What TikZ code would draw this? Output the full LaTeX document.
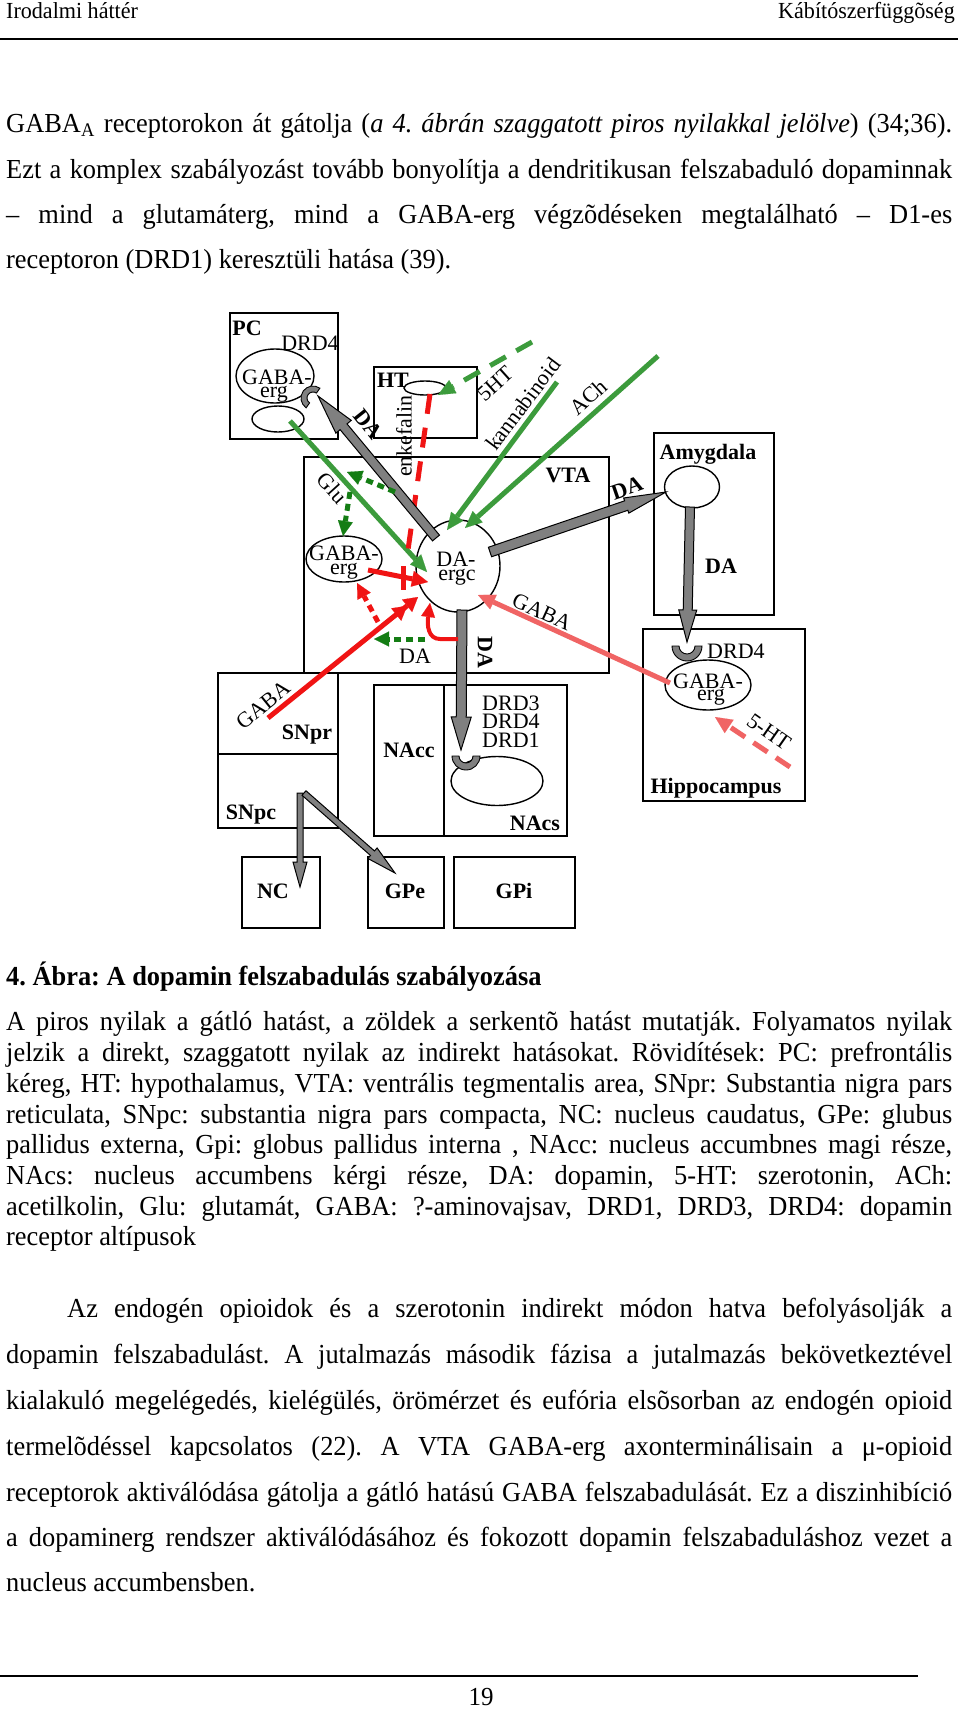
\documentclass[tikz,border=0pt]{standalone}
\usepackage{fontspec}
\setmainfont{Liberation Serif}
\newfontfamily\bodyf[FakeStretch=0.96]{Liberation Serif}
\usetikzlibrary{calc,shapes.geometric,arrows.meta}
\frenchspacing
\definecolor{gA}{RGB}{60,155,60}
\definecolor{gD}{RGB}{20,125,20}
\definecolor{rA}{RGB}{240,20,20}
\definecolor{rL}{RGB}{240,100,100}
\definecolor{grayA}{RGB}{128,128,128}
\newcommand\blockarr[5]{%
  \coordinate (bah) at ($(#2)!#5!(#1)$);
  \filldraw[fill=grayA, draw=black, line width=1pt, line join=miter]
    ($(#1)!#3!90:(#2)$) -- ($(bah)!#3!-90:(#1)$) -- ($(bah)!#4!-90:(#1)$) -- (#2)
    -- ($(bah)!#4!90:(#1)$) -- ($(bah)!#3!90:(#1)$) -- ($(#1)!#3!-90:(#2)$) -- cycle;}
\newcommand\cupat[5]{%
  \coordinate (#1) at (#2);
  \begin{scope}[shift={(#1)}, rotate=#3]
  \filldraw[fill=grayA, draw=black, line width=0.9pt] (180:#4) arc[start angle=180, end angle=360, radius=#4] -- (0:#5) arc[start angle=0, end angle=-180, radius=#5] -- cycle;
  \end{scope}}
\tikzset{
  box/.style={draw=black, line width=1.5pt, rectangle, inner sep=0pt, anchor=north west},
  cell/.style={draw=black, line width=1.4pt, ellipse, inner sep=0pt, fill=white},
  lbl/.style={font=\fontsize{22}{22}\selectfont, inner sep=0pt},
  blbl/.style={font=\fontsize{22}{22}\selectfont\bfseries, inner sep=0pt},
  body/.style={font=\bodyf\fontsize{27.5}{33}\selectfont\frenchspacing, inner sep=0pt, anchor=base west},
  hdr/.style={font=\bodyf\fontsize{23}{26}\selectfont, inner sep=0pt},
  gline/.style={draw=gA, line width=5pt, -{Triangle[length=17pt,width=15pt,line width=0.1pt]}},
  gdash/.style={gline, dash pattern=on 18pt off 12pt},
  gdot/.style={draw=gD, line width=5pt, dash pattern=on 7pt off 5pt, -{Triangle[length=15pt,width=15pt,line width=0.1pt]}},
  rline/.style={draw=rA, line width=5pt, -{Triangle[length=16pt,width=16pt,line width=0.1pt]}},
  rdot/.style={draw=rA, line width=5pt, dash pattern=on 7pt off 5pt, -{Triangle[length=15pt,width=15pt,line width=0.1pt]}},
  rdash/.style={draw=rA, line width=5pt, dash pattern=on 20pt off 14pt},
  lrline/.style={draw=rL, line width=5pt, -{Triangle[length=17pt,width=16pt,line width=0.1pt]}},
  lrdash/.style={lrline, dash pattern=on 17pt off 10pt},
}
\begin{document}
\begin{tikzpicture}[x=1pt,y=-1pt]
\fill[white] (0,0) rectangle (960,1710);
\useasboundingbox (0,0) rectangle (960,1710);
% ---------- header ----------
\node[hdr, anchor=base west] (hleft) at (6,19) {Irodalmi háttér};
\node[hdr, anchor=base east] (hright) at (955,19) {Kábítószerfüggõség};
\draw[line width=1.8pt] (0,39) -- (958,39);
% ---------- top paragraph ----------
\node[body] (p1) at (6,132) {\makebox[946pt][s]{GABA\textsubscript{A} receptorokon át gátolja (\textit{a 4. ábrán szaggatott piros nyilakkal jelölve}) (34;36).}};
\node[body] (p2) at (6,178) {\makebox[946pt][s]{Ezt a komplex szabályozást tovább bonyolítja a dendritikusan felszabaduló dopaminnak}};
\node[body] (p3) at (6,223) {\makebox[946pt][s]{– mind a glutamáterg, mind a GABA-erg végzõdéseken megtalálható – D1-es}};
\node[body] (p4) at (6,268) {receptoron (DRD1) keresztüli hatása (39).};
% ---------- boxes ----------
\node[box, minimum width=108pt, minimum height=126pt] (pc) at (229,312) {};
\node[box, minimum width=103pt, minimum height=71pt] (ht) at (373,366) {};
\node[box, minimum width=305pt, minimum height=216pt] (vta) at (303,456) {};
\node[box, minimum width=120pt, minimum height=182pt] (amy) at (653,432) {};
\node[box, minimum width=162pt, minimum height=172pt] (hip) at (642,628) {};
\node[box, minimum width=120pt, minimum height=81pt] (snpr) at (217,672) {};
\node[box, minimum width=120pt, minimum height=74pt] (snpc) at (217,753) {};
\node[box, minimum width=70pt, minimum height=151pt] (nacc) at (373,684) {};
\node[box, minimum width=123pt, minimum height=151pt] (nacs) at (443,684) {};
\node[box, minimum width=78pt, minimum height=71pt] (nc) at (241,856) {};
\node[box, minimum width=76pt, minimum height=71pt] (gpe) at (367,856) {};
\node[box, minimum width=121pt, minimum height=71pt] (gpi) at (453,856) {};
% ---------- cells ----------
\node[cell, minimum width=78pt, minimum height=54pt] (pcgaba) at (275,376) {};
\node[cell, minimum width=52pt, minimum height=26pt] (pcglu) at (278,419) {};
\node[cell, minimum width=42pt, minimum height=14pt] (htcell) at (425,388) {};
\node[cell, minimum width=76pt, minimum height=46pt] (vtagaba) at (344,559) {};
\node[cell, minimum width=84pt, minimum height=92pt] (daergc) at (458,566) {};
\node[cell, minimum width=55pt, minimum height=42pt] (amycell) at (692,487) {};
\node[cell, minimum width=86pt, minimum height=50pt] (hipgaba) at (708,685) {};
\node[cell, minimum width=92pt, minimum height=49pt] (nacscell) at (497,781) {};
% ---------- receptors ----------
\cupat{pccup}{313,398}{-125}{12pt}{6pt}
\cupat{nacscup}{466,756}{0}{14pt}{7pt}
\cupat{hipcup}{687,646}{0}{15pt}{8pt}
% ---------- end points ----------
\coordinate (g1s) at (436,538); \coordinate (g1e) at (318,396);
\coordinate (g2s) at (490,552); \coordinate (g2e) at (666,492);
\coordinate (g3s) at (462,610); \coordinate (g3e) at (461,750);
\coordinate (g4s) at (690,507); \coordinate (g4e) at (687,642);
\coordinate (g5s) at (300,793); \coordinate (g5e) at (300,887);
\coordinate (g6s) at (304,793); \coordinate (g6e) at (395,873);
\coordinate (glus) at (290,421); \coordinate (glue) at (427,572);
\coordinate (kans) at (557,382); \coordinate (kane) at (447,530);
\coordinate (achs) at (658,356); \coordinate (ache) at (465,528);
\coordinate (fhts) at (532,342); \coordinate (fhte) at (438,395);
\coordinate (gd1s) at (395,492); \coordinate (gd1e) at (347,472);
\coordinate (gd2s) at (350,492); \coordinate (gd2e) at (343,536);
\coordinate (enks) at (430,394); \coordinate (enke) at (408,550);
\coordinate (bar1) at (403,566); \coordinate (bar2) at (403,590);
\coordinate (gabs) at (368,570); \coordinate (gabe) at (428,582);
\coordinate (snrs) at (268,718); \coordinate (snre) at (418,597);
\coordinate (rd1s) at (378,622); \coordinate (rd1e) at (357,583);
\coordinate (rcs) at (458,639); \coordinate (rce) at (430,603);
\coordinate (gd3s) at (425,639); \coordinate (gd3e) at (374,639);
\coordinate (hgs) at (670,683); \coordinate (hge) at (478,595);
\coordinate (h5s) at (790,767); \coordinate (h5e) at (715,717);
% ---------- connectors ----------
\draw[gline] (glus) -- (glue);
\draw[gline] (kans) -- (kane);
\draw[gline] (achs) -- (ache);
\draw[gdash] (fhts) -- (fhte);
\draw[rdash] (enks) -- (enke);
\draw[draw=rA, line width=5pt] (bar1) -- (bar2);
\blockarr{g1s}{g1e}{4.5pt}{10pt}{40pt}
\draw[gdot] (gd1s) -- (gd1e);
\draw[gdot] (gd2s) -- (gd2e);
\draw[rline] (gabs) -- (gabe);
\draw[draw=rA, line width=5pt, -{Triangle[length=14pt,width=16pt,line width=0.1pt] Triangle[length=14pt,width=16pt,line width=0.1pt]}] (snrs) -- (snre);
\draw[rdot] (rd1s) -- (rd1e);
\blockarr{g3s}{g3e}{5pt}{10pt}{33pt}
\draw[draw=rA, line width=4pt, -{Triangle[length=14pt,width=14pt,line width=0.1pt]}] (rcs) -- (440,639) .. controls (428,639) and (427,625) .. (rce);
\draw[gdot] (gd3s) -- (gd3e);
\draw[lrline] (hgs) -- (hge);
\draw[lrdash] (h5s) -- (h5e);
\blockarr{g2s}{g2e}{5pt}{8pt}{42pt}
\blockarr{g4s}{g4e}{4.5pt}{9pt}{32pt}
\blockarr{g5s}{g5e}{3pt}{7pt}{25pt}
\blockarr{g6s}{g6e}{3pt}{7pt}{30pt}
% ---------- labels ----------
\node[blbl, anchor=base] (tpc) at (247,335) {PC};
\node[lbl, anchor=base] (tdrd4a) at (310,350) {DRD4};
\node[lbl, anchor=base] (tg1) at (277,384) {GABA-};
\node[lbl, anchor=base] (te1) at (274,397) {erg};
\node[blbl, anchor=base] (tht) at (393,387) {HT};
\node[lbl, rotate=90] (tenk) at (404,436) {enkefalin};
\node[blbl, rotate=-51.5] (tda1) at (368,424) {DA};
\node[lbl, rotate=42] (t5ht) at (495,384) {5HT};
\node[lbl, rotate=53] (tkan) at (523,404) {kannabinoid};
\node[lbl, rotate=42] (tach) at (588,397) {ACh};
\node[blbl, anchor=base] (tvta) at (568,482) {VTA};
\node[lbl, rotate=-47.8] (tglu) at (332,488) {Glu};
\node[lbl, anchor=base] (tg2) at (344,560) {GABA-};
\node[lbl, anchor=base] (te2) at (344,574) {erg};
\node[lbl, anchor=base] (tda2) at (456,566) {DA-};
\node[lbl, anchor=base] (tergc) at (457,580) {ergc};
\node[blbl, rotate=19] (tda3) at (627,488) {DA};
\node[blbl, anchor=base] (tamy) at (708,459) {Amygdala};
\node[blbl] (tda4) at (721,566) {DA};
\node[lbl, rotate=-24.6] (tgaba3) at (542,612) {GABA};
\node[lbl, anchor=base] (tda5) at (415,663) {DA};
\node[blbl, rotate=-90] (tda6) at (485,652) {DA};
\node[lbl, anchor=base west] (tdrd3) at (482,710) {DRD3};
\node[lbl, anchor=base west] (tdrd4b) at (482,728) {DRD4};
\node[lbl, anchor=base west] (tdrd1) at (482,747) {DRD1};
\node[blbl, anchor=base] (tnacc) at (409,757) {NAcc};
\node[blbl, anchor=base] (tnacs) at (535,830) {NAcs};
\node[lbl, rotate=39] (tgaba4) at (263,705) {GABA};
\node[blbl, anchor=base] (tsnpr) at (307,739) {SNpr};
\node[blbl, anchor=base] (tsnpc) at (251,819) {SNpc};
\node[lbl, anchor=base west] (tdrd4c) at (707,658) {DRD4};
\node[lbl, anchor=base] (tg3) at (708,688) {GABA-};
\node[lbl, anchor=base] (te3) at (711,700) {erg};
\node[lbl, rotate=-35] (t5ht2) at (769,732) {5-HT};
\node[blbl, anchor=base] (thip) at (716,793) {Hippocampus};
\node[blbl, anchor=base] (tnc) at (273,898) {NC};
\node[blbl, anchor=base] (tgpe) at (405,898) {GPe};
\node[blbl, anchor=base] (tgpi) at (514,898) {GPi};
% ---------- caption ----------
\node[body, font=\bodyf\bfseries\fontsize{27.5}{33}\selectfont\frenchspacing] (cap) at (6,985) {4. Ábra: A dopamin felszabadulás szabályozása};
\node[body] (c1) at (6,1030) {\makebox[946pt][s]{A piros nyilak a gátló hatást, a zöldek a serkentõ hatást mutatják. Folyamatos nyilak}};
\node[body] (c2) at (6,1061) {\makebox[946pt][s]{jelzik a direkt, szaggatott nyilak az indirekt hatásokat. Rövidítések: PC: prefrontális}};
\node[body] (c3) at (6,1092) {\makebox[946pt][s]{kéreg, HT: hypothalamus, VTA: ventrális tegmentalis area, SNpr: Substantia nigra pars}};
\node[body] (c4) at (6,1123) {\makebox[946pt][s]{reticulata, SNpc: substantia nigra pars compacta, NC: nucleus caudatus, GPe: glubus}};
\node[body] (c5) at (6,1153) {\makebox[946pt][s]{pallidus externa, Gpi: globus pallidus interna , NAcc: nucleus accumbnes magi része,}};
\node[body] (c6) at (6,1184) {\makebox[946pt][s]{NAcs: nucleus accumbens kérgi része, DA: dopamin, 5-HT: szerotonin, ACh:}};
\node[body] (c7) at (6,1215) {\makebox[946pt][s]{acetilkolin, Glu: glutamát, GABA: ?-aminovajsav, DRD1, DRD3, DRD4: dopamin}};
\node[body] (c8) at (6,1245) {receptor altípusok};
% ---------- bottom paragraph ----------
\node[body] (b1) at (67,1317) {\makebox[885pt][s]{Az endogén opioidok és a szerotonin indirekt módon hatva befolyásolják a}};
\node[body] (b2) at (6,1363) {\makebox[946pt][s]{dopamin felszabadulást. A jutalmazás második fázisa a jutalmazás bekövetkeztével}};
\node[body] (b3) at (6,1409) {\makebox[946pt][s]{kialakuló megelégedés, kielégülés, örömérzet és eufória elsõsorban az endogén opioid}};
\node[body] (b4) at (6,1455) {\makebox[946pt][s]{termelõdéssel kapcsolatos (22). A VTA GABA-erg axonterminálisain a μ-opioid}};
\node[body] (b5) at (6,1501) {\makebox[946pt][s]{receptorok aktiválódása gátolja a gátló hatású GABA felszabadulását. Ez a diszinhibíció}};
\node[body] (b6) at (6,1546) {\makebox[946pt][s]{a dopaminerg rendszer aktiválódásához és fokozott dopamin felszabaduláshoz vezet a}};
\node[body] (b7) at (6,1591) {nucleus accumbensben.};
\draw[line width=1.5pt] (0,1676) -- (918,1676);
\node[body, anchor=base, font=\bodyf\fontsize{26}{30}\selectfont] (pnum) at (481,1705) {19};
\end{tikzpicture}
\end{document}
